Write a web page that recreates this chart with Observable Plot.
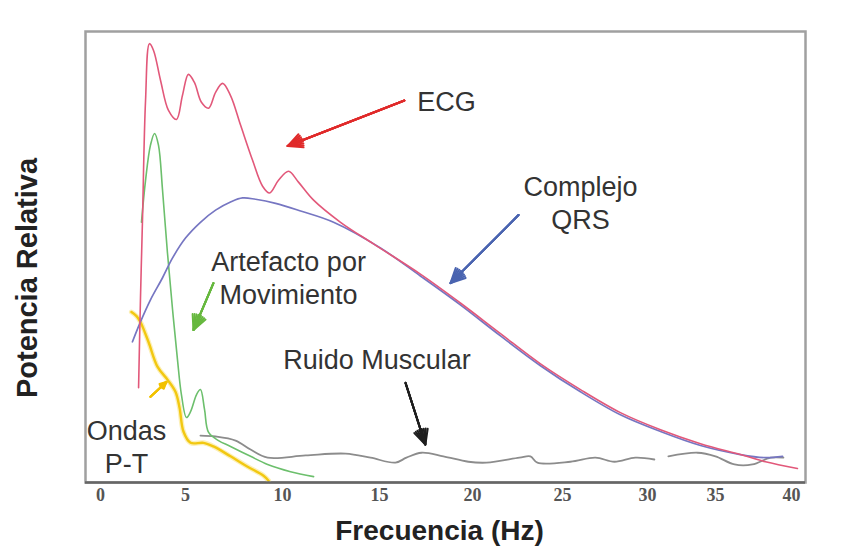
<!DOCTYPE html>
<html><head><meta charset="utf-8">
<script src="https://cdn.jsdelivr.net/npm/d3@7"></script>
<script src="https://cdn.jsdelivr.net/npm/@observablehq/plot@0.6"></script>
<style>
html,body{margin:0;padding:0;background:#fff;}
#chart{width:868px;height:558px;overflow:hidden;}
</style></head><body><div id="chart"></div>
<script>
// Tick labels (Hz) and where the reference's (uneven) axis puts them, in linear Hz units
const xTicks    = [0, 5, 10, 15, 20, 25, 30, 35, 40];
const xTickWarp = [0, 4.92, 10.54, 16.15, 21.53, 26.74, 31.66, 35.60, 40];

// ECG spectrum
const ecgHz  = [2.24, 2.35, 2.47, 2.65, 2.88, 3.12, 3.53, 4.0, 4.47, 4.82, 5.15, 5.46, 5.82, 6.19, 6.55, 6.91, 7.32, 7.84, 8.45, 8.97, 9.33, 9.79, 10.31, 10.82, 11.60, 12.99, 14.69, 17.20, 19.35, 21.56, 23.78, 26.06, 28.41, 30.96, 33.90, 36.64, 38.29, 40.39];
const ecgPow = [21.0, 40.5, 58.2, 84.7, 97.3, 95.8, 89.2, 82.5, 80.5, 85.8, 90.5, 88.7, 84.3, 83.0, 86.5, 88.5, 85.8, 79.2, 71.5, 65.7, 64.2, 67.0, 69.0, 66.6, 62.6, 57.7, 52.9, 46.2, 39.8, 33.0, 26.3, 20.6, 15.5, 11.7, 8.6, 6.2, 4.6, 3.1];

// QRS complex
const qrsHz  = [1.88, 2.35, 2.94, 3.65, 4.24, 5.0, 5.77, 6.55, 7.32, 7.94, 8.61, 9.64, 10.93, 12.63, 15.05, 17.20, 19.35, 21.56, 23.78, 26.06, 28.41, 30.96, 33.90, 36.64, 38.29, 39.41];
const qrsPow = [31.2, 35.6, 40.5, 45.4, 49.8, 54.2, 57.7, 60.4, 62.2, 63.1, 62.8, 61.9, 60.2, 57.7, 52.0, 45.8, 39.4, 32.5, 25.9, 20.1, 15.0, 11.3, 8.2, 6.2, 5.5, 5.8];

// Motion artefact
const motHz  = [2.41, 2.65, 2.94, 3.18, 3.41, 3.65, 3.94, 4.24, 4.53, 4.76, 5.05, 5.26, 5.57, 5.77, 5.98, 6.19, 6.70, 7.32, 8.35, 9.23, 10.41, 11.60];
const motPow = [57.7, 67.0, 74.8, 77.4, 74.8, 64.8, 50.9, 38.3, 27.2, 19.5, 14.4, 15.7, 19.5, 20.6, 16.2, 11.1, 9.3, 8.0, 5.8, 4.0, 2.4, 1.3];

// P-T waves
const ptHz  = [1.82, 2.12, 2.35, 2.82, 3.35, 3.94, 4.41, 4.65, 4.88, 5.26, 5.93, 6.44, 7.32, 8.20, 9.02, 9.28];
const ptPow = [37.8, 36.9, 35.6, 31.2, 25.7, 22.8, 20.1, 16.6, 11.3, 8.8, 8.8, 8.0, 5.8, 3.5, 1.5, 0.4];

// Muscle noise (null = gap in the trace)
const musHz  = [5.77, 6.55, 7.58, 8.35, 9.23, 11.19, 13.25, 14.54, 15.86, 16.45, 17.26, 18.44, 19.78, 20.78, 22.61, 23.22, 23.61, 25.47, 26.94, 28.06, 29.29, 30.51, 31.0, 31.54, 33.68, 35.0, 36.25, 37.43, 38.62, 39.47];
const musPow = [10.4, 10.2, 9.3, 7.3, 5.5, 6.0, 6.4, 5.5, 4.4, 5.5, 6.6, 5.8, 4.6, 4.4, 5.5, 5.8, 4.4, 4.6, 5.5, 4.6, 5.5, 5.1, null, 5.8, 6.6, 5.8, 4.0, 4.0, 5.5, 5.5];

// Labels and arrows (data units)
const labelText = ["ECG", "Complejo\nQRS", "Artefacto por\nMovimiento", "Ruido Muscular", "Ondas\nP-T"];
const labelHz   = [18.60, 26.06, 10.31, 14.87, 1.53];
const labelPow  = [84.7, 62.2, 45.6, 27.4, 8.2];

const arrowName = ["ecg", "qrs", "mot", "pt", "mus"];
const arrowHz1  = [16.34, 22.56, 6.44, 2.94, 16.40];
const arrowPow1 = [84.7, 59.3, 44.2, 19.0, 22.1];
const arrowHz2  = [10.26, 18.82, 5.41, 3.88, 17.47];
const arrowPow2 = [74.6, 44.2, 33.8, 22.3, 8.4];

const seriesColor = {ecg: "#e2587a", qrs: "#7676c2", mot: "#6cbf6c", pt: "#f2c811", mus: "#8c8c8c"};
const arrowColor  = {ecg: "#e02a2a", qrs: "#4a64b0", mot: "#66b83e", pt: "#f2c200", mus: "#1e1e1e"};

const toRows = (hz, pw) => hz.map((h, i) => ({hz: h, p: pw[i]}));
const ecg = toRows(ecgHz, ecgPow);
const qrs = toRows(qrsHz, qrsPow);
const mot = toRows(motHz, motPow);
const pt  = toRows(ptHz, ptPow);
const mus = toRows(musHz, musPow);
const labels = labelText.map((t, i) => ({t, hz: labelHz[i], p: labelPow[i]}));
const arrows = arrowName.map((n, i) => ({n, x1: arrowHz1[i], y1: arrowPow1[i], x2: arrowHz2[i], y2: arrowPow2[i]}));

// the reference's frequency axis is unevenly spaced: map Hz through its tick calibration
const warp = d3.scaleLinear().domain(xTicks).range(xTickWarp);

// stacked arrows with narrowing heads give a filled-looking arrowhead
const arrowMarks = [52, 38, 24, 10].map(a =>
  Plot.arrow(arrows, {x1: "x1", y1: "y1", x2: "x2", y2: "y2", stroke: d => arrowColor[d.n], strokeWidth: 2, headLength: 12, headAngle: a})
);

const chart = Plot.plot({
  width: 868, height: 558,
  marginLeft: 85, marginRight: 63, marginTop: 31, marginBottom: 76,
  style: {fontFamily: "'Liberation Sans', Arial, sans-serif", background: "#ffffff", overflow: "visible"},
  x: {domain: [0, 40], transform: warp, insetLeft: 15, insetRight: 14},
  y: {domain: [0, 100], axis: null},
  marks: [
    Plot.frame({stroke: "#a0a0a0", strokeWidth: 2.5}),
    Plot.axisX({ticks: xTickWarp, tickFormat: d => String(Math.round(warp.invert(d))), tickSize: 0, tickPadding: 6, fontSize: 18, fontFamily: "'Liberation Serif', serif", fill: "#555", fontWeight: "bold", label: null}),
    Plot.line(pt,  {x: "hz", y: "p", stroke: "#fcf0b8", strokeWidth: 5, curve: "catmull-rom"}),
    Plot.line(pt,  {x: "hz", y: "p", stroke: seriesColor.pt, strokeWidth: 2.4, curve: "catmull-rom"}),
    Plot.line(mus, {x: "hz", y: "p", stroke: seriesColor.mus, strokeWidth: 1.8, curve: "catmull-rom"}),
    Plot.line(mot, {x: "hz", y: "p", stroke: seriesColor.mot, strokeWidth: 1.6, curve: "catmull-rom"}),
    Plot.line(qrs, {x: "hz", y: "p", stroke: seriesColor.qrs, strokeWidth: 1.7, curve: "catmull-rom"}),
    Plot.line(ecg, {x: "hz", y: "p", stroke: seriesColor.ecg, strokeWidth: 1.6, curve: "catmull-rom"}),
    Plot.ruleY([0], {stroke: "#666", strokeWidth: 2.5}),
    ...arrowMarks,
    Plot.text(labels, {x: "hz", y: "p", text: "t", fontSize: 27, fill: "#333", lineHeight: 1.22}),
    Plot.text(["Frecuencia (Hz)"], {text: d => d, frameAnchor: "bottom", textAnchor: "middle", dx: -6, dy: 57, fontSize: 28, fontWeight: "bold", fill: "#222"}),
    Plot.text(["Potencia Relativa"], {text: d => d, frameAnchor: "left", textAnchor: "middle", rotate: -90, dx: -58, dy: 21, fontSize: 29, fontWeight: "bold", fill: "#222"})
  ]
});
document.getElementById("chart").appendChild(chart);
</script>
</body></html>
